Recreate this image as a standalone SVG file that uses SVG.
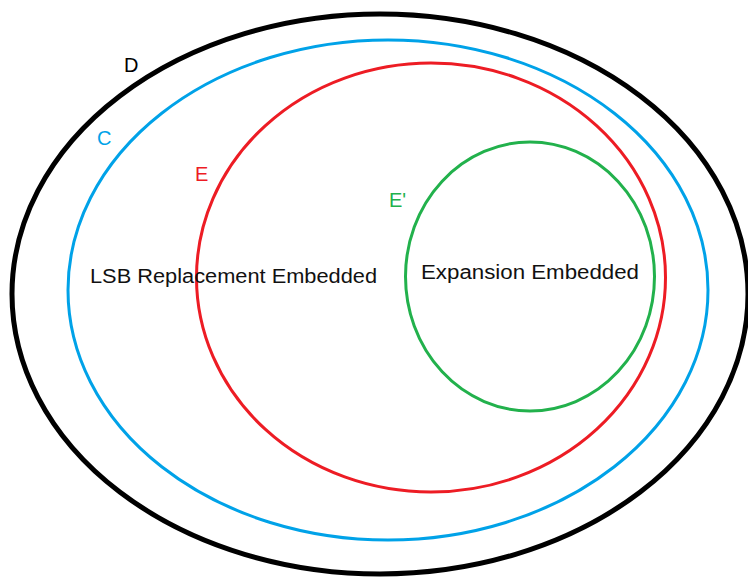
<svg xmlns="http://www.w3.org/2000/svg" width="748" height="579" viewBox="0 0 748 579">
<style>
.set{fill:none}
.lbl{font-family:"Liberation Sans","Noto Sans",sans-serif;font-size:20px}
.txt{font-family:"Liberation Sans","Noto Sans",sans-serif;font-size:20px;fill:#111}
</style>
<rect width="748" height="579" fill="#fff"/>
<g id="D">
<ellipse class="set" cx="380" cy="294" rx="368" ry="280" stroke="#000" stroke-width="5"/>
<text class="lbl" x="124" y="72" fill="#000">D</text>
</g>
<g id="C">
<ellipse class="set" cx="388" cy="290" rx="320" ry="250" stroke="#00A2E8" stroke-width="3"/>
<text class="lbl" x="97" y="145" fill="#00A2E8">C</text>
</g>
<g id="E">
<ellipse class="set" cx="431" cy="277.5" rx="234.5" ry="214.5" stroke="#ED1C24" stroke-width="3"/>
<text class="lbl" x="195" y="181" fill="#ED1C24">E</text>
</g>
<g id="Eprime">
<ellipse class="set" cx="530" cy="276.5" rx="124.5" ry="134.5" stroke="#22B14C" stroke-width="3"/>
<text class="lbl" x="389" y="207" fill="#22B14C">E'</text>
</g>
<g id="labels">
<text class="txt" x="90" y="283" textLength="287" lengthAdjust="spacingAndGlyphs">LSB Replacement Embedded</text>
<text class="txt" x="421" y="279" textLength="218" lengthAdjust="spacingAndGlyphs">Expansion Embedded</text>
</g>
<g id="connectors"></g>
</svg>
